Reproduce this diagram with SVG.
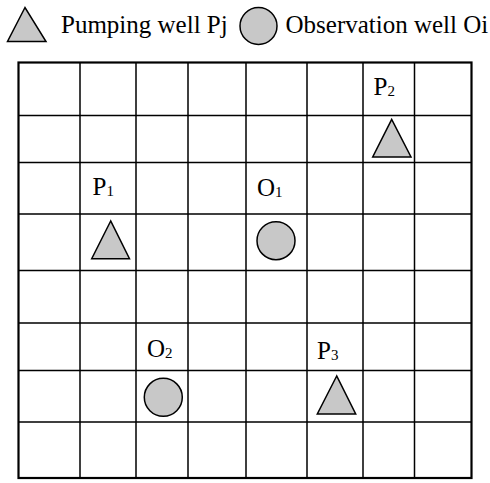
<svg xmlns="http://www.w3.org/2000/svg" width="490" height="483" viewBox="0 0 490 483">
<style>
.grid{stroke:#000;stroke-width:1.5;fill:none}
.border{stroke:#000;stroke-width:2.2;fill:none}
.well{fill:#c8c8c8;stroke:#000;stroke-width:1.5;stroke-linejoin:miter}
.lbl{font-family:"Liberation Serif","Times New Roman",serif;font-size:25px;fill:#000}
.leg{font-family:"Liberation Serif","Times New Roman",serif;font-size:25px;fill:#000}
.sub{font-size:15px}
</style>
<rect width="490" height="483" fill="#fff"/>
<g id="legend">
<polygon class="well" points="25,7.5 7.5,41.5 46,41.5"/>
<text class="leg" x="61" y="33">Pumping well Pj</text>
<circle class="well" cx="258.5" cy="26" r="18.5"/>
<text class="leg" x="285.5" y="33">Observation well Oi</text>
</g>
<g id="grid">
<path class="grid" d="M80,62.5V478M136,62.5V478M188,62.5V478M246,62.5V478M307,62.5V478M363,62.5V478M414.5,62.5V478M18.5,115.5H471.5M18.5,162.5H471.5M18.5,214H471.5M18.5,270.5H471.5M18.5,323H471.5M18.5,370.5H471.5M18.5,422H471.5"/>
<rect class="border" x="18.5" y="62.5" width="453" height="415.5"/>
</g>
<g id="P1">
<polygon class="well" points="110.7,221 91.7,258.7 129.5,258.7"/>
<text class="lbl" x="92.5" y="195">P<tspan class="sub" dy="1">1</tspan></text>
</g>
<g id="P2">
<polygon class="well" points="391.7,119.3 372.7,157 411,157"/>
<text class="lbl" x="373.5" y="95">P<tspan class="sub" dy="1">2</tspan></text>
</g>
<g id="P3">
<polygon class="well" points="336.7,376 317.3,414 355.7,414"/>
<text class="lbl" x="317" y="358.5">P<tspan class="sub" dy="1">3</tspan></text>
</g>
<g id="O1">
<circle class="well" cx="276" cy="240.7" r="19"/>
<text class="lbl" x="257" y="196">O<tspan class="sub" dy="1">1</tspan></text>
</g>
<g id="O2">
<circle class="well" cx="163.3" cy="397.3" r="19"/>
<text class="lbl" x="147" y="356.5">O<tspan class="sub" dy="1">2</tspan></text>
</g>
<g id="connectors"></g>
</svg>
